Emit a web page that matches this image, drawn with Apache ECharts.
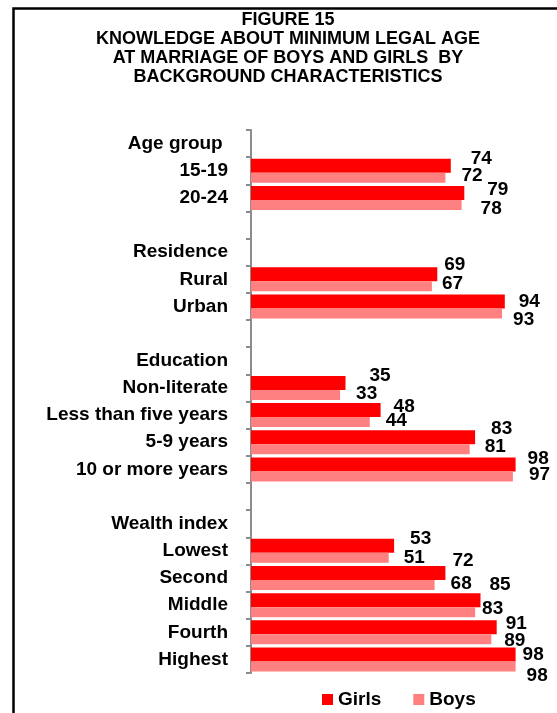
<!DOCTYPE html>
<html>
<head>
<meta charset="utf-8">
<script src="https://cdn.jsdelivr.net/npm/echarts@6/dist/echarts.min.js"></script>
<style>
  html, body { margin: 0; padding: 0; background: #fff; }
  #chart { width: 557px; height: 713px; }
</style>
</head>
<body>
<div id="chart"></div>
<script>
// Row labels, top to bottom (group headings and spacer rows included)
const categories = [
  'Age group ', '15-19', '20-24', ' ',
  'Residence', 'Rural', 'Urban', '  ',
  'Education', 'Non-literate', 'Less than five years', '5-9 years', '10 or more years', '   ',
  'Wealth index', 'Lowest', 'Second', 'Middle', 'Fourth', 'Highest'
];

// Percent who know the minimum legal age at marriage
const girls = [null, 74, 79, null, null, 69, 94, null, null, 35, 48, 83, 98, null, null, 53, 72, 85, 91, 98];
const boys  = [null, 72, 78, null, null, 67, 93, null, null, 33, 44, 81, 97, null, null, 51, 68, 83, 89, 98];

// Hand-placed value label nudges [dx, dy] per row
const girlsLabelShift = [null, [20, -7], [23, -3.5], null, null, [7, -10], [14, 0], null, null,
  [24, -7], [13, -3], [16, -8], [12, -6], null, null, [16, -7.5], [7, -12], [9, -15], [9, -4], [7, 0]];
const boysLabelShift = [null, [16, -1.5], [19, 4], null, null, [10, -3], [11, 6], null, null,
  [16, -1.5], [16, -1], [15, -2.5], [16, -2], null, null, [15, 0], [16, -1], [7, -3.5], [13, 1], [11, 9.5]];

const FONT = '"Liberation Sans", Arial, sans-serif';

function withLabels(values, shifts) {
  return values.map((v, i) => v == null ? null : {
    value: v,
    label: { offset: shifts[i] }
  });
}

const valueLabel = {
  show: true,
  position: 'right',
  distance: 0,
  color: '#000',
  fontFamily: FONT,
  fontWeight: 'bold',
  fontSize: 19
};

const chart = echarts.init(document.getElementById('chart'), null, { renderer: 'canvas' });

chart.setOption({
  animation: false,
  backgroundColor: '#fff',
  title: {
    text: 'FIGURE 15\nKNOWLEDGE ABOUT MINIMUM LEGAL AGE\nAT MARRIAGE OF BOYS AND GIRLS  BY\nBACKGROUND CHARACTERISTICS',
    left: 288,
    top: 11,
    padding: 0,
    textAlign: 'center',
    textStyle: {
      fontFamily: FONT,
      fontWeight: 'bold',
      fontSize: 18,
      lineHeight: 19,
      color: '#000'
    }
  },
  graphic: [{
    type: 'rect',
    shape: { x: 13.5, y: 8.5, width: 620, height: 800 },
    style: { fill: 'none', stroke: '#000', lineWidth: 2.5 },
    silent: true,
    z: 10
  }],
  legend: {
    data: ['Girls', 'Boys'],
    left: 322,
    top: 690,
    padding: 0,
    itemWidth: 11,
    itemHeight: 11,
    itemGap: 32,
    icon: 'rect',
    textStyle: {
      fontFamily: FONT,
      fontWeight: 'bold',
      fontSize: 19,
      color: '#000'
    }
  },
  grid: {
    left: 251,
    top: 130,
    width: 270,
    height: 543
  },
  xAxis: {
    type: 'value',
    min: 0,
    max: 100,
    show: false
  },
  yAxis: {
    type: 'category',
    inverse: true,
    data: categories,
    axisLine: { show: true, lineStyle: { color: '#8c8c8c', width: 2 } },
    axisTick: { show: true, length: 5, lineStyle: { color: '#8c8c8c', width: 2 } },
    axisLabel: {
      margin: 23,
      color: '#000',
      fontFamily: FONT,
      fontWeight: 'bold',
      fontSize: 19
    },
    splitLine: { show: false }
  },
  series: [
    {
      name: 'Girls',
      type: 'bar',
      barWidth: 14,
      barGap: '0%',
      itemStyle: { color: '#ff0000' },
      label: valueLabel,
      data: withLabels(girls, girlsLabelShift)
    },
    {
      name: 'Boys',
      type: 'bar',
      barWidth: 10,
      barGap: '0%',
      itemStyle: { color: '#ff8080' },
      label: valueLabel,
      data: withLabels(boys, boysLabelShift)
    }
  ]
});
</script>
</body>
</html>
